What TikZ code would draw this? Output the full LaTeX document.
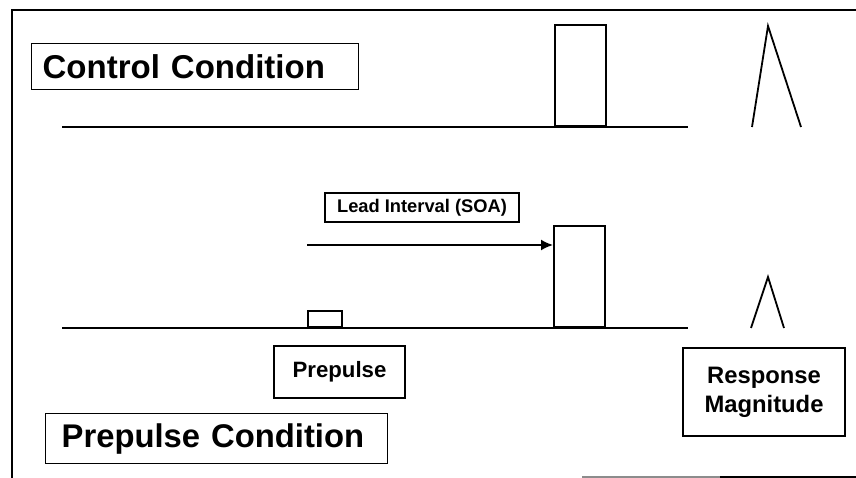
\documentclass[tikz,border=0pt]{standalone}
\usepackage{fontspec}
\setmainfont{Liberation Sans}
\usetikzlibrary{arrows.meta, positioning, calc}

\begin{document}
\begin{tikzpicture}[x=1pt, y=-1pt, >={Latex[length=12pt, width=11pt]}, line width=1.8pt,
  box/.style={draw, line width=1.3pt, inner sep=0pt, text=black},
  pulse/.style={draw, line width=1.8pt, inner sep=0pt, anchor=south west}]

\useasboundingbox (0,0) rectangle (856,478);

% Frame
\draw[line width=1.5pt] (856,10) -- (12,10) -- (12,478);
\draw[black!45, line width=1.2pt] (582,477) -- (720,477);
\draw[line width=1.2pt] (720,477) -- (856,477);

% =========== CONTROL ===========
\node[box, anchor=north west, minimum width=327, minimum height=46,
      text width=305, inner xsep=11, align=left,
      font=\bfseries\fontsize{33}{38}\selectfont] (ctltitle) at (31,43) {Control Condition};

\draw (62,127) -- (688,127);
\node[pulse, minimum width=51, minimum height=101] (ctlpulse) at (554,127) {};

% response peak
\draw (752,127) -- (768,26) -- (801,127);

% =========== PREPULSE ===========
\node[box, minimum width=194, minimum height=29,
      font=\bfseries\fontsize{18.3}{21}\selectfont] (lead) at (422,207.5) {Lead Interval (SOA)};

\draw (62,328) -- (688,328);
\node[pulse, minimum width=34, minimum height=16] (prepulse) at (307,328) {};
\node[pulse, minimum width=51, minimum height=101] (leadpulse) at (553,328) {};

\coordinate (leadstart) at (307,245);
\draw[->] (leadstart) -- (leadstart -| leadpulse.west);

% smaller peak
\draw (751,328) -- (768,277) -- (784,328);

\node[box, minimum width=131, minimum height=52,
      font=\bfseries\fontsize{22.2}{26}\selectfont] (pplabel) at (339.5,372) {Prepulse};

\node[box, minimum width=162, minimum height=88, align=center,
      font=\bfseries\fontsize{23.8}{29}\selectfont] (resp) at (764,392) {Response\\Magnitude};

\node[box, anchor=north west, minimum width=342, minimum height=50,
      text width=310, inner xsep=16, align=left,
      font=\bfseries\fontsize{32.8}{38}\selectfont] (pptitle) at (45,413) {Prepulse Condition};

\end{tikzpicture}
\end{document}
